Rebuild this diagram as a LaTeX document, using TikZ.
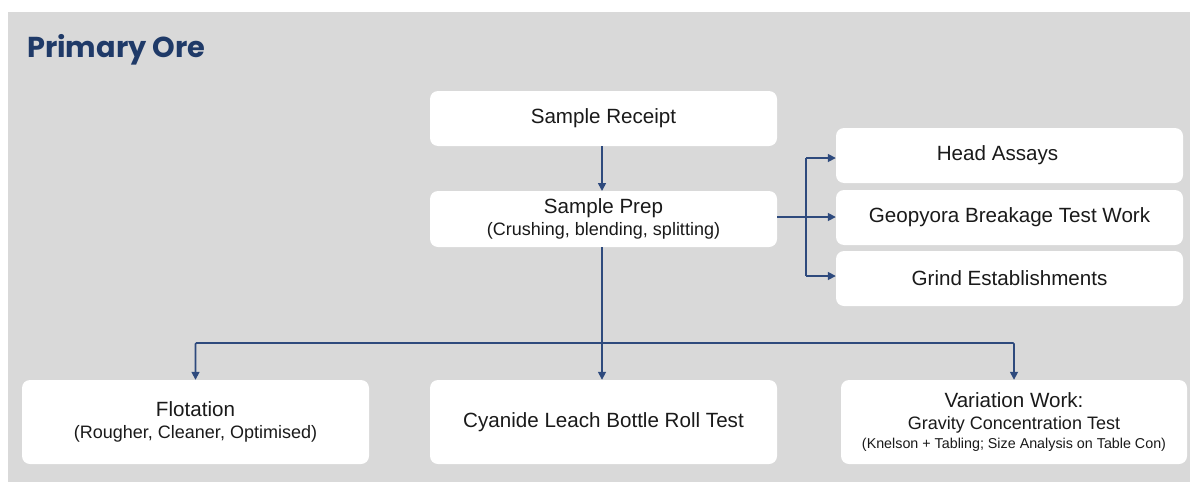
\documentclass[tikz,border=0pt]{standalone}
\usepackage{fontspec}
\setmainfont{Liberation Sans}
\newfontfamily\titlefont{Poppins}
\usetikzlibrary{arrows.meta}
\definecolor{bggray}{HTML}{D9D9D9}
\definecolor{navy}{HTML}{2E4A7D}
\definecolor{titleblue}{HTML}{1F3A68}
\definecolor{txt}{HTML}{1A1A1A}
\tikzset{
  box/.style={draw=none, fill=white, rounded corners=8pt, minimum width=347pt, align=center, text=txt, inner sep=0pt},
  big/.style={font=\fontsize{20.6}{23}\selectfont},
  conn/.style={draw=navy, line width=1.6pt, -{Triangle[width=8pt,length=8pt]}},
  plain/.style={draw=navy, line width=1.6pt},
}
\newcommand{\bigtxt}{\fontsize{20.6}{23}\selectfont}
\begin{document}
\begin{tikzpicture}[x=1pt,y=-1pt]
\useasboundingbox (0,0) rectangle (1190,482);
\fill[white] (0,0) rectangle (1190,482);
\fill[bggray] (8,12) rectangle (1190,482);
\node[anchor=base west, text=titleblue, font=\titlefont\bfseries\fontsize{28.8}{32}\selectfont, inner sep=0pt] (title) at (27,57) {Primary Ore};

\node[box, big, minimum height=55pt] (receipt) at (603.5,118.5) {\raisebox{1pt}{Sample Receipt}};
\node[box, minimum height=56pt, font=\fontsize{18}{22}\selectfont] (prep) at (603.5,219) {\raisebox{0pt}{\bigtxt Sample Prep}\\{(Crushing, blending, splitting)}};
\node[box, big, minimum height=55pt] (head) at (1009.5,155.5) {\hspace*{-24pt}\raisebox{-1pt}{Head Assays}};
\node[box, big, minimum height=55pt] (geo) at (1009.5,217.5) {Geopyora Breakage Test Work};
\node[box, big, minimum height=55pt] (grind) at (1009.5,278.5) {Grind Establishments};
\node[box, minimum height=84pt, font=\fontsize{18}{22}\selectfont] (flot) at (195.5,422) {{\bigtxt Flotation}\\{(Rougher, Cleaner, Optimised)}};
\node[box, big, minimum height=84pt] (cyan) at (603.5,422) {\raisebox{2pt}{Cyanide Leach Bottle Roll Test}};
\node[box, minimum width=346pt, minimum height=84pt, font=\fontsize{14.3}{18.5}\selectfont] (var) at (1014,422) {{\bigtxt Variation Work:}\\[3.5pt]{\fontsize{18}{19}\selectfont Gravity Concentration Test}\\{(Knelson + Tabling; Size Analysis on Table Con)}};

\coordinate (bx) at (806,217);
\coordinate (hub) at (602,343);

\draw[conn] (602,146) -- (602,191);
\draw[plain] (777,217) -- (bx);
\draw[plain] (806,158) -- (806,276);
\draw[conn] (806,158) -- (head.west |- 0,158);
\draw[conn] (bx) -- (geo.west |- bx);
\draw[conn] (806,276) -- (grind.west |- 0,276);

\draw[plain] (602,247) -- (hub);
\draw[conn] (hub) -- (cyan.north -| hub);
\draw[conn, rounded corners=1pt] (hub) -| (flot.north);
\draw[conn, rounded corners=1pt] (hub) -| (var.north);
\end{tikzpicture}
\end{document}
